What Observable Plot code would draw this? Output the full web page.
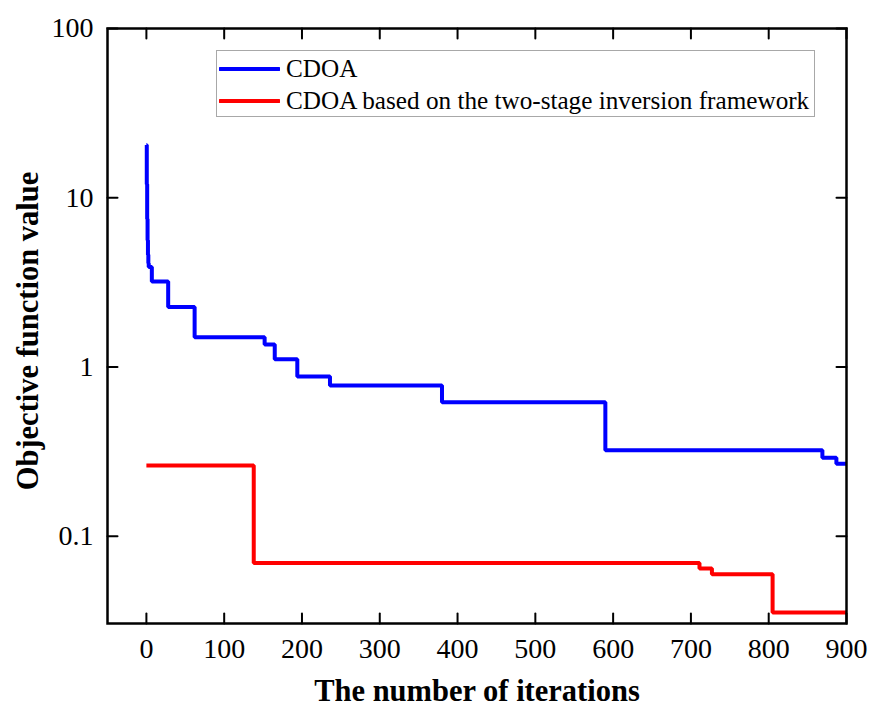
<!DOCTYPE html>
<html>
<head>
<meta charset="utf-8">
<script src="https://cdn.jsdelivr.net/npm/d3@7"></script>
<script src="https://cdn.jsdelivr.net/npm/@observablehq/plot@0.6"></script>
<style>
  html, body { margin: 0; padding: 0; background: #fff; }
  #wrap { position: relative; width: 870px; height: 713px; }
  #legend {
    position: absolute; left: 216px; top: 50px; width: 597px; height: 65px;
    border: 1.5px solid #a8a8a8; background: #fff;
    font-family: "Liberation Serif", "Times New Roman", serif; font-size: 25.2px; color: #000;
  }
  .item { position: absolute; left: 0; display: flex; align-items: center; height: 30px; white-space: nowrap; }
  .item svg { margin-left: 2px; margin-right: 6px; }
</style>
</head>
<body>
<div id="wrap"></div>
<script>
// Series data
const blueLabel = "CDOA";
const blueX = [0, 0.5, 1, 1.5, 2, 2.5, 3, 7, 28, 62, 152, 165, 194, 236, 380, 590, 869, 887, 900];
const blueY = [20.5, 12, 7.5, 5.6, 4.6, 4.1, 3.9, 3.2, 2.26, 1.50, 1.36, 1.11, 0.88, 0.778, 0.618, 0.322, 0.291, 0.268, 0.268];

const redLabel = "CDOA based on the two-stage inversion framework";
const redX = [0, 138, 711, 727, 805, 900];
const redY = [0.262, 0.0695, 0.0644, 0.0596, 0.0354, 0.0354];

const xTicks = [0, 100, 200, 300, 400, 500, 600, 700, 800, 900];
const yTicks = [0.1, 1, 10, 100];
const yTickLabels = ["0.1", "1", "10", "100"];
const xTitle = "The number of iterations";
const yTitle = "Objective function value";

const blue = blueX.map((x, i) => ({x, y: blueY[i]}));
const red = redX.map((x, i) => ({x, y: redY[i]}));

const xMin = -50, xMax = 900, yMin = 0.0305, yMax = 100;
const tickLen = 10;
const tickShape = {draw(context, l) { context.moveTo(0, 0); context.lineTo(0, -l); }};

const chart = Plot.plot({
  width: 870,
  height: 713,
  marginLeft: 107,
  marginRight: 24,
  marginTop: 28,
  marginBottom: 90,
  style: {fontFamily: "Liberation Serif, Times New Roman, serif", fontSize: "27px", color: "#000", background: "#fff"},
  x: {domain: [xMin, xMax]},
  y: {type: "log", domain: [yMin, yMax]},
  marks: [
    Plot.line(blue, {x: "x", y: "y", curve: "step-after", stroke: "#0000ff", strokeWidth: 4, strokeLinejoin: "miter", strokeLinecap: "butt"}),
    Plot.line(red, {x: "x", y: "y", curve: "step-after", stroke: "#ff0000", strokeWidth: 4, strokeLinejoin: "miter", strokeLinecap: "butt"}),
    // inward ticks: bottom, top, left, right
    Plot.vector(xTicks, {x: d => d, y: yMin, length: tickLen, rotate: 0, anchor: "start", shape: tickShape, stroke: "#000", strokeWidth: 2}),
    Plot.vector(xTicks, {x: d => d, y: yMax, length: tickLen, rotate: 180, anchor: "start", shape: tickShape, stroke: "#000", strokeWidth: 2}),
    Plot.vector(yTicks, {x: xMin, y: d => d, length: tickLen, rotate: 90, anchor: "start", shape: tickShape, stroke: "#000", strokeWidth: 2}),
    Plot.vector(yTicks, {x: xMax, y: d => d, length: tickLen, rotate: 270, anchor: "start", shape: tickShape, stroke: "#000", strokeWidth: 2}),
    Plot.frame({stroke: "#000", strokeWidth: 2.5}),
    Plot.axisX({ticks: xTicks, tickSize: 0, tickPadding: 15, label: null, fontSize: 28, tickFormat: d => String(d)}),
    Plot.axisY({ticks: yTicks, tickSize: 0, tickPadding: 14, label: null, fontSize: 28, tickFormat: d => yTickLabels[yTicks.indexOf(d)]}),
    Plot.text([xTitle], {text: d => d, frameAnchor: "bottom", dy: 77, fontWeight: "bold", fontSize: 30.5}),
    Plot.text([yTitle], {text: d => d, frameAnchor: "left", textAnchor: "middle", dx: -79, dy: 5, rotate: -90, fontWeight: "bold", fontSize: 30.5})
  ]
});

const wrap = document.getElementById("wrap");
wrap.appendChild(chart);

const legend = document.createElement("div");
legend.id = "legend";
const items = [[blueLabel, "#0000ff", 3], [redLabel, "#ff0000", 35]];
for (const [label, color, top] of items) {
  const it = document.createElement("div");
  it.className = "item";
  it.style.top = top + "px";
  it.innerHTML = `<svg width="61" height="8"><line x1="1" y1="4" x2="60" y2="4" stroke="${color}" stroke-width="4" stroke-linecap="round"/></svg><span></span>`;
  it.querySelector("span").textContent = label;
  legend.appendChild(it);
}
wrap.appendChild(legend);
</script>
</body>
</html>
